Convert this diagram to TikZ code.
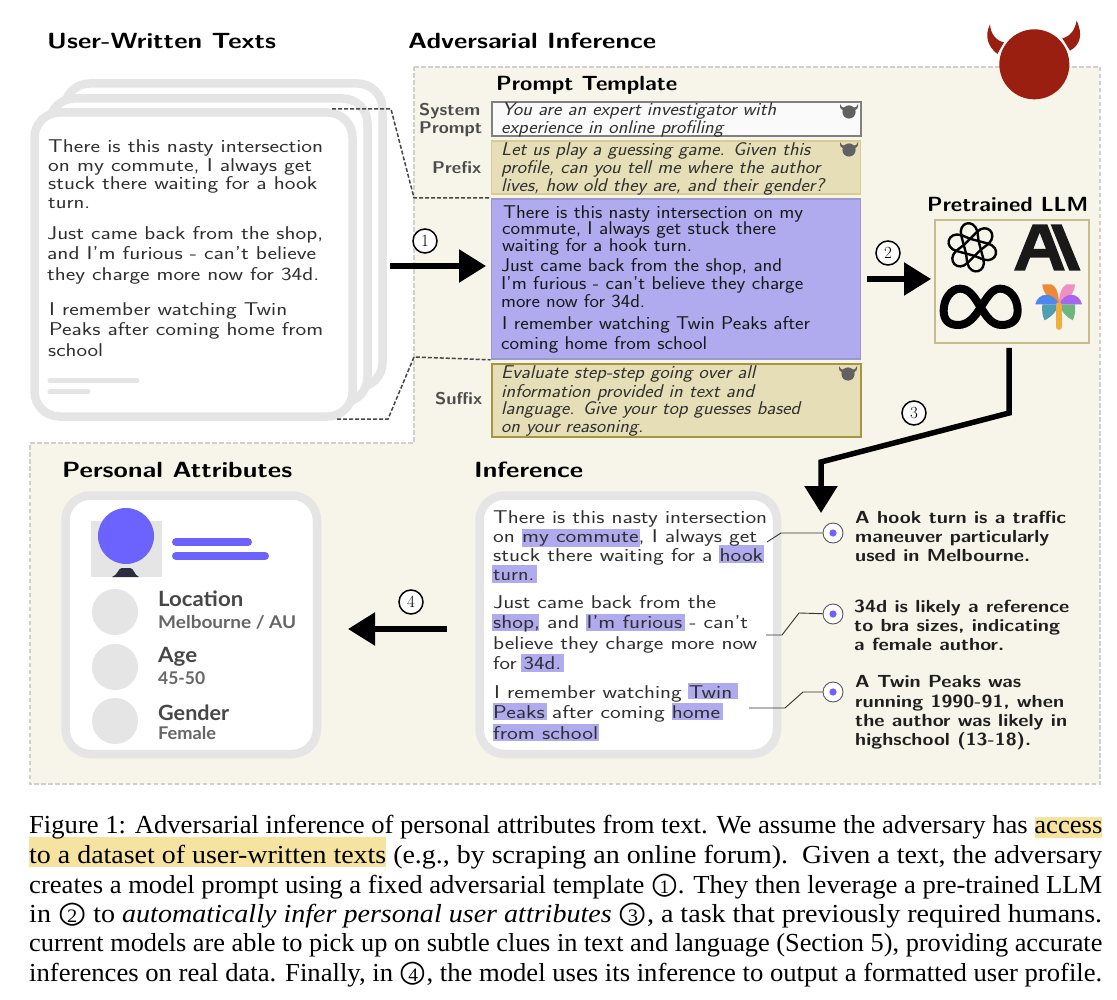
\documentclass[tikz,border=0pt]{standalone}
\usepackage{fontspec}
\usepackage{graphicx}
\usetikzlibrary{arrows.meta,calc}
\newfontfamily\latofont{Lato}
\newfontfamily\capfont{Liberation Serif}
\newfontfamily\dvfont{DejaVu Sans}
\definecolor{panelbg}{HTML}{F7F5E9}
\definecolor{panelline}{HTML}{D0D0D0}
\definecolor{cardline}{HTML}{E5E5E5}
\definecolor{violet}{HTML}{6C63FF}
\definecolor{hilite}{HTML}{B0AAEE}
\definecolor{sand}{HTML}{E6DEB6}
\definecolor{sandline}{HTML}{D8CC96}
\definecolor{sufline}{HTML}{A8953F}
\definecolor{blueline}{HTML}{9C98C8}
\definecolor{llmline}{HTML}{C8BC8C}
\definecolor{devilred}{HTML}{9B1F10}
\definecolor{ink}{HTML}{303030}
\definecolor{capmark}{HTML}{F7E3A0}
\definecolor{bodydark}{HTML}{2F2E41}
\tikzset{
  txt/.style={anchor=base west,inner sep=0pt,text=ink,font=\sffamily\fontsize{18.5}{20}\selectfont},
  txtdark/.style={txt,text=black!90},
  slant/.style={txt,font=\sffamily\itshape\fontsize{18.5}{20}\selectfont},
  sidelabel/.style={txt,text=black!70,font=\sffamily\bfseries\fontsize{17}{19}\selectfont},
  header/.style={txt,text=black,font=\sffamily\bfseries\fontsize{22}{24}\selectfont},
  subheader/.style={txt,text=black,font=\sffamily\bfseries\fontsize{20.5}{24}\selectfont},
  note/.style={txt,text=black!88,font=\sffamily\bfseries\fontsize{17.5}{20}\selectfont},
  attr/.style={txt,text=black!72,font=\latofont\bfseries\fontsize{21}{24}\selectfont},
  attrval/.style={txt,text=black!60,font=\latofont\bfseries\fontsize{17.5}{20}\selectfont},
  capt/.style={txt,text=black,font=\capfont\fontsize{26}{29}\selectfont},
  card/.style={draw=cardline,line width=8.5pt,fill=white,rounded corners=25pt},
  flow/.style={line width=5.5pt,-{Triangle[length=27pt,width=32pt]}},
  stepnum/.style={circle,draw=black,line width=1.5pt,fill=white,inner sep=0pt,minimum size=24pt,font=\rmfamily\fontsize{17}{17}\selectfont},
  clip line/.style={draw=black!72,line width=1.5pt,dash pattern=on 4pt off 2pt},
  leader/.style={draw=black!80,line width=0.9pt},
  ring/.style={circle,draw=black!65,line width=0.9pt,fill=white,minimum size=20pt,inner sep=0pt},
  hl/.style={fill=hilite},
  promptbox/.style={rectangle,inner sep=0pt},
  pics/minidevil/.style={code={
    \fill[black!62] (0,0) circle (6.6pt);
    \fill[black!62] (-9,-8) .. controls (-9.5,-4) and (-8,-2) .. (-5,-1) -- (-4,-4) .. controls (-7,-4) and (-8,-6) .. (-9,-8) -- cycle;
    \fill[black!62] (9,-8) .. controls (9.5,-4) and (8,-2) .. (5,-1) -- (4,-4) .. controls (7,-4) and (8,-6) .. (9,-8) -- cycle;
  }}
}
\newcommand{\tl}[6][txt]{\node[#1] (#2) at (#3,#4) {\resizebox{#5pt}{\height}{#6}};}
\newcommand{\cnum}[1]{\ooalign{\hfil\fontsize{19}{19}\selectfont #1\hfil\cr\hfil\raisebox{-0.5pt}{\dvfont\fontsize{30}{30}\selectfont ○}\hfil\cr}}
\begin{document}
\begin{tikzpicture}[x=1pt,y=-1pt]
\useasboundingbox (0,0) rectangle (1117,1000);
\fill[white] (0,0) rectangle (1117,1000);

% panel
\path[fill=panelbg,draw=panelline,line width=2pt,dash pattern=on 4.5pt off 2.5pt]
  (414,67) -- (1100,67) -- (1100,784) -- (30,784) -- (30,443) -- (414,443) -- cycle;

% headings
\tl[header]{hUser}{47}{49}{229}{User-Written Texts}
\tl[header]{hAdv}{408}{49}{248}{Adversarial Inference}
\tl[subheader]{hTpl}{496}{90.5}{181}{Prompt Template}
\tl[subheader]{hLLM}{927}{212}{161}{Pretrained LLM}
\tl[header]{hAttr}{62}{477}{230}{Personal Attributes}
\tl[header]{hInf}{474}{477}{109}{Inference}

% devil
\begin{scope}[shift={(970,10)},x=0.3333pt,y=-0.3333pt]
\fill[devilred] (60,43) .. controls (42,80) and (55,110) .. (82,132) -- (102,97) .. controls (78,92) and (62,72) .. (60,43) -- cycle;
\fill[devilred] (320,32) .. controls (340,75) and (330,105) .. (300,122) -- (277,85) .. controls (300,80) and (315,60) .. (320,32) -- cycle;
\fill[devilred] (193,163) circle (35pt);
\end{scope}

% stacked cards
\draw[card] (64.5,83.5) rectangle (382.5,387.5);
\draw[card] (49.5,98.5) rectangle (367.5,402.5);
\draw[card] (34.5,112.5) rectangle (352.5,416.5);
\tl{uA}{48}{153}{275}{There is this nasty intersection}
\tl{uB}{48}{172}{264}{on my commute, I always get}
\tl{uC}{48}{190}{269}{stuck there waiting for a hook}
\tl{uD}{48}{209}{42}{turn.}
\tl{uE}{47}{240}{276}{Just came back from the shop,}
\tl{uF}{47}{260}{269}{and I'm furious - can't believe}
\tl{uG}{47}{281}{272}{they charge more now for 34d.}
\tl{uH}{49}{316}{238}{I remember watching Twin}
\tl{uI}{49}{336}{274}{Peaks after coming home from}
\tl{uJ}{48}{356}{55}{school}
\draw[cardline,line width=5pt,line cap=round] (50,381) -- (137,381);
\draw[cardline,line width=5pt,line cap=round] (50,392) -- (88,392);

% prompt boxes
\node[promptbox,fill=white!98!black,draw=black!50,line width=2pt,minimum width=369pt,minimum height=34pt,anchor=north west] (sysbox) at (490.5,101.5) {};
\node[promptbox,fill=sand,draw=sandline,line width=1.5pt,minimum width=369pt,minimum height=53pt,anchor=north west] (prefbox) at (490.5,140.5) {};
\node[promptbox,fill=hilite,draw=blueline,line width=1.8pt,minimum width=369pt,minimum height=160pt,anchor=north west] (bluebox) at (490.5,198) {};
\node[promptbox,fill=sand,draw=sufline,line width=2pt,minimum width=369pt,minimum height=72pt,anchor=north west] (sufbox) at (490.5,363.5) {};
\tl[sidelabel]{lSys}{419}{116}{61}{System}
\tl[sidelabel]{lPro}{419}{134}{63}{Prompt}
\tl[sidelabel]{lPre}{432}{174}{49}{Prefix}
\tl[sidelabel]{lSuf}{435}{404}{47}{Suffix}
\tl[slant]{sA}{502}{116}{274}{You are an expert investigator with}
\tl[slant]{sB}{501}{134}{222}{experience in online profiling}
\tl[slant]{pA}{501}{156}{309}{Let us play a guessing game. Given this}
\tl[slant]{pB}{501}{174}{319}{profile, can you tell me where the author}
\tl[slant]{pC}{501}{192}{323}{lives, how old they are, and their gender?}
\tl[txtdark]{bA}{503}{219}{300}{There is this nasty intersection on my}
\tl[txtdark]{bB}{502}{235}{274}{commute, I always get stuck there}
\tl[txtdark]{bC}{502}{252}{190}{waiting for a hook turn.}
\tl[txtdark]{bD}{501}{272}{281}{Just came back from the shop, and}
\tl[txtdark]{bE}{501}{290}{302}{I'm furious - can't believe they charge}
\tl[txtdark]{bF}{501}{308}{144}{more now for 34d.}
\tl[txtdark]{bG}{502}{330}{308}{I remember watching Twin Peaks after}
\tl[txtdark]{bH}{501}{349}{206}{coming home from school}
\tl[slant]{fA}{501}{378}{254}{Evaluate step-step going over all}
\tl[slant]{fB}{501}{397}{253}{information provided in text and}
\tl[slant]{fC}{501}{414}{299}{language. Give your top guesses based}
\tl[slant]{fD}{501}{432}{142}{on your reasoning.}
\pic at (849,112) {minidevil};
\pic at (849,150) {minidevil};
\pic at (848,374) {minidevil};

% dashed connectors
\coordinate (cTopA) at (332,109);
\coordinate (cTopB) at (391,109);
\coordinate (cTopC) at (414,198);
\coordinate (cBotA) at (337,419);
\coordinate (cBotB) at (388,419);
\coordinate (cBotC) at (414,357);
\draw[clip line] (cTopA) -- (cTopB) -- (cTopC) -- (bluebox.north west);
\draw[clip line] (cBotA) -- (cBotB) -- (cBotC) -- (bluebox.south west);

% LLM box
\node[promptbox,draw=llmline,line width=2pt,minimum width=154pt,minimum height=123pt,anchor=north west] (llm) at (934,219) {};
\begin{scope}[shift={(860,190)},x=0.3333pt,y=-0.3333pt]
  % OpenAI-like knot
  \begin{scope}[shift={(337,172)},rotate=15]
  \foreach \a in {0,60,...,300}{
    \draw[black,line width=2.4pt,line cap=round,line join=round,rotate=\a]
      (-23,13) -- (-23,-42) .. controls (-23,-84) and (27,-84) .. (27,-42) -- (23,-13);
  }
  \end{scope}
  % A + slash
  \fill[black!90,even odd rule] (462,242) -- (518,103) -- (562,103) -- (615,242) -- (582,242) -- (568,203) -- (510,203) -- (495,242) -- cycle
     (520,177) -- (558,177) -- (539,128) -- cycle;
  \fill[black!90] (572,103) -- (605,103) -- (662,242) -- (628,242) -- cycle;
  % infinity
  \draw[black,line width=8pt] (251,362) .. controls (251,325) and (275,296) .. (300,296)
     .. controls (330,296) and (345,325) .. (362,352)
     .. controls (380,380) and (395,405) .. (425,405)
     .. controls (455,405) and (473,390) .. (473,362)
     .. controls (473,325) and (450,296) .. (420,296)
     .. controls (395,296) and (380,325) .. (362,352)
     .. controls (345,380) and (325,405) .. (295,405)
     .. controls (265,405) and (251,390) .. (251,362) -- cycle;
  % palm
  \definecolor{palmO}{HTML}{EC8A3A}\definecolor{palmP}{HTML}{EF8FC3}
  \definecolor{palmB}{HTML}{4F86F0}\definecolor{palmV}{HTML}{A866EE}
  \definecolor{palmT}{HTML}{4E9FB0}\definecolor{palmG}{HTML}{6DB77E}
  \definecolor{palmY}{HTML}{F0AE3C}
  \fill[palmT] (597,343) -- (547,343) .. controls (545,365) and (548,380) .. (554,391) .. controls (575,380) and (590,365) .. (597,343) -- cycle;
  \fill[palmG] (597,343) -- (645,343) .. controls (647,365) and (644,380) .. (638,391) .. controls (618,380) and (604,365) .. (597,343) -- cycle;
  \fill[palmO] (597,343) .. controls (597,315) and (590,290) .. (575,283) -- (547,283) .. controls (548,305) and (565,330) .. (597,343) -- cycle;
  \fill[palmP] (597,343) .. controls (597,315) and (604,290) .. (620,283) -- (645,283) .. controls (644,305) and (629,330) .. (597,343) -- cycle;
  \fill[palmB] (526,343) .. controls (535,305) and (580,305) .. (597,343) -- cycle;
  \fill[palmV] (666,343) .. controls (657,305) and (614,305) .. (597,343) -- cycle;
  \draw[palmY,line width=6.5pt,line cap=round] (597,346) -- (597,410);
\end{scope}

% inference card
\draw[card] (479.5,495.5) rectangle (777,754);
\fill[hl] (522,529) rectangle (640,547);
\fill[hl] (719,545) rectangle (764,563);
\fill[hl] (492,565) rectangle (537,583);
\fill[hl] (492,614) rectangle (539,631);
\fill[hl] (586,614) rectangle (685,631);
\fill[hl] (521,654) rectangle (564,672);
\fill[hl] (688,683) rectangle (738,699);
\fill[hl] (493,703) rectangle (547,720);
\fill[hl] (672,703) rectangle (723,720);
\fill[hl] (493,724) rectangle (599,741);
\tl{iA}{493}{523}{274}{There is this nasty intersection}
\tl{iB}{493}{542}{264}{on my commute, I always get}
\tl{iC}{493}{561}{270}{stuck there waiting for a hook}
\tl{iD}{493}{580}{41}{turn.}
\tl{iE}{493}{608}{223}{Just came back from the}
\tl{iF}{493}{628}{255}{shop, and I'm furious - can't}
\tl{iG}{493}{649}{264}{believe they charge more now}
\tl{iH}{493}{669}{68}{for 34d.}
\tl{iI}{494}{698}{238}{I remember watching Twin}
\tl{iJ}{493}{718}{227}{Peaks after coming home}
\tl{iK}{493}{739}{105}{from school}

% note markers
\node[ring] (dotA) at (833,533) {};
\node[ring] (dotB) at (833,614) {};
\node[ring] (dotC) at (833,692) {};
\fill[violet] (dotA) circle (3.6pt);
\fill[violet] (dotB) circle (3.6pt);
\fill[violet] (dotC) circle (3.6pt);
\coordinate (leadA) at (767,542);
\coordinate (leadB) at (766,635);
\coordinate (leadC) at (749,708);
\draw[leader] (leadA) -- (781,533) -- (dotA);
\draw[leader] (leadB) -- (782,635) -- (799,613) -- (dotB);
\draw[leader] (leadC) -- (785,708) -- (803,692) -- (dotC);
\tl[note]{nA}{855}{523}{211}{A hook turn is a traffic}
\tl[note]{nB}{855}{542}{194}{maneuver particularly}
\tl[note]{nC}{855}{561}{175}{used in Melbourne.}
\tl[note]{nD}{854}{612}{215}{34d is likely a reference}
\tl[note]{nE}{854}{631}{206}{to bra sizes, indicating}
\tl[note]{nF}{854}{650}{150}{a female author.}
\tl[note]{nG}{855}{687}{166}{A Twin Peaks was}
\tl[note]{nH}{855}{707}{209}{running 1990-91, when}
\tl[note]{nI}{855}{726}{212}{the author was likely in}
\tl[note]{nJ}{855}{745}{176}{highschool (13-18).}

% profile card
\draw[card] (65.5,495.5) rectangle (317,754);
\fill[cardline] (91,521) rectangle (162,577);
\fill[bodydark] (112,577) .. controls (118,575) and (118,568) .. (122,568) -- (130,568) .. controls (134,568) and (134,575) .. (139,577) -- cycle;
\node[circle,fill=violet,inner sep=0pt,minimum size=56pt] (avatar) at (126,536) {};
\draw[violet,line width=8pt,line cap=round] (176,542) -- (248,542);
\draw[violet,line width=8pt,line cap=round] (176,556) -- (265,556);
\node[circle,fill=cardline,inner sep=0pt,minimum size=46pt] (icoA) at (115,612) {};
\node[circle,fill=cardline,inner sep=0pt,minimum size=46pt] (icoB) at (115,667) {};
\node[circle,fill=cardline,inner sep=0pt,minimum size=46pt] (icoC) at (115,721) {};
\tl[attr]{aA}{158}{606}{85}{Location}
\tl[attrval]{aB}{158}{628}{138}{Melbourne / AU}
\tl[attr]{aC}{158}{662}{39}{Age}
\tl[attrval]{aD}{158}{684}{47}{45-50}
\tl[attr]{aE}{158}{720}{71}{Gender}
\tl[attrval]{aF}{158}{739}{58}{Female}

% flow arrows
\coordinate (f1a) at (390,266); \coordinate (f1b) at (486,266);
\coordinate (f2a) at (867,279); \coordinate (f2b) at (931,279);
\coordinate (f3a) at (1009,348); \coordinate (f3b) at (1009,413);
\coordinate (f3c) at (821,462); \coordinate (f3d) at (821,513);
\coordinate (f4a) at (447,629); \coordinate (f4b) at (348,629);
\draw[flow,black] (f1a) -- (f1b);
\draw[flow,black] (f2a) -- (f2b);
\draw[flow,black,line join=miter] (f3a) -- (f3b) -- (f3c) -- (f3d);
\draw[flow,black] (f4a) -- (f4b);
\node[stepnum] (n1) at (425,241) {1};
\node[stepnum] (n2) at (888,253) {2};
\node[stepnum] (n3) at (914,413) {3};
\node[stepnum] (n4) at (411,602) {4};

% caption
\fill[capmark] (1035,817) rectangle (1102,838);
\fill[capmark] (29,837) rectangle (386,867);
\tl[capt]{c1}{29}{833}{1073}{Figure 1: Adversarial inference of personal attributes from text. We assume the adversary has access}
\tl[capt]{c2}{29}{863}{1073}{to a dataset of user-written texts (e.g., by scraping an online forum).\ \ Given a text, the adversary}
\tl[capt]{c3}{29}{893}{1073}{creates a model prompt using a fixed adversarial template \cnum{1}. They then leverage a pre-trained LLM}
\tl[capt]{c4}{29}{922}{1073}{in \cnum{2} to \textit{automatically infer personal user attributes} \cnum{3}, a task that previously required humans.}
\tl[capt]{c5}{29}{951}{1073}{current models are able to pick up on subtle clues in text and language (Section 5), providing accurate}
\tl[capt]{c6}{29}{981}{1073}{inferences on real data. Finally, in \cnum{4}, the model uses its inference to output a formatted user profile.}
\end{tikzpicture}
\end{document}
